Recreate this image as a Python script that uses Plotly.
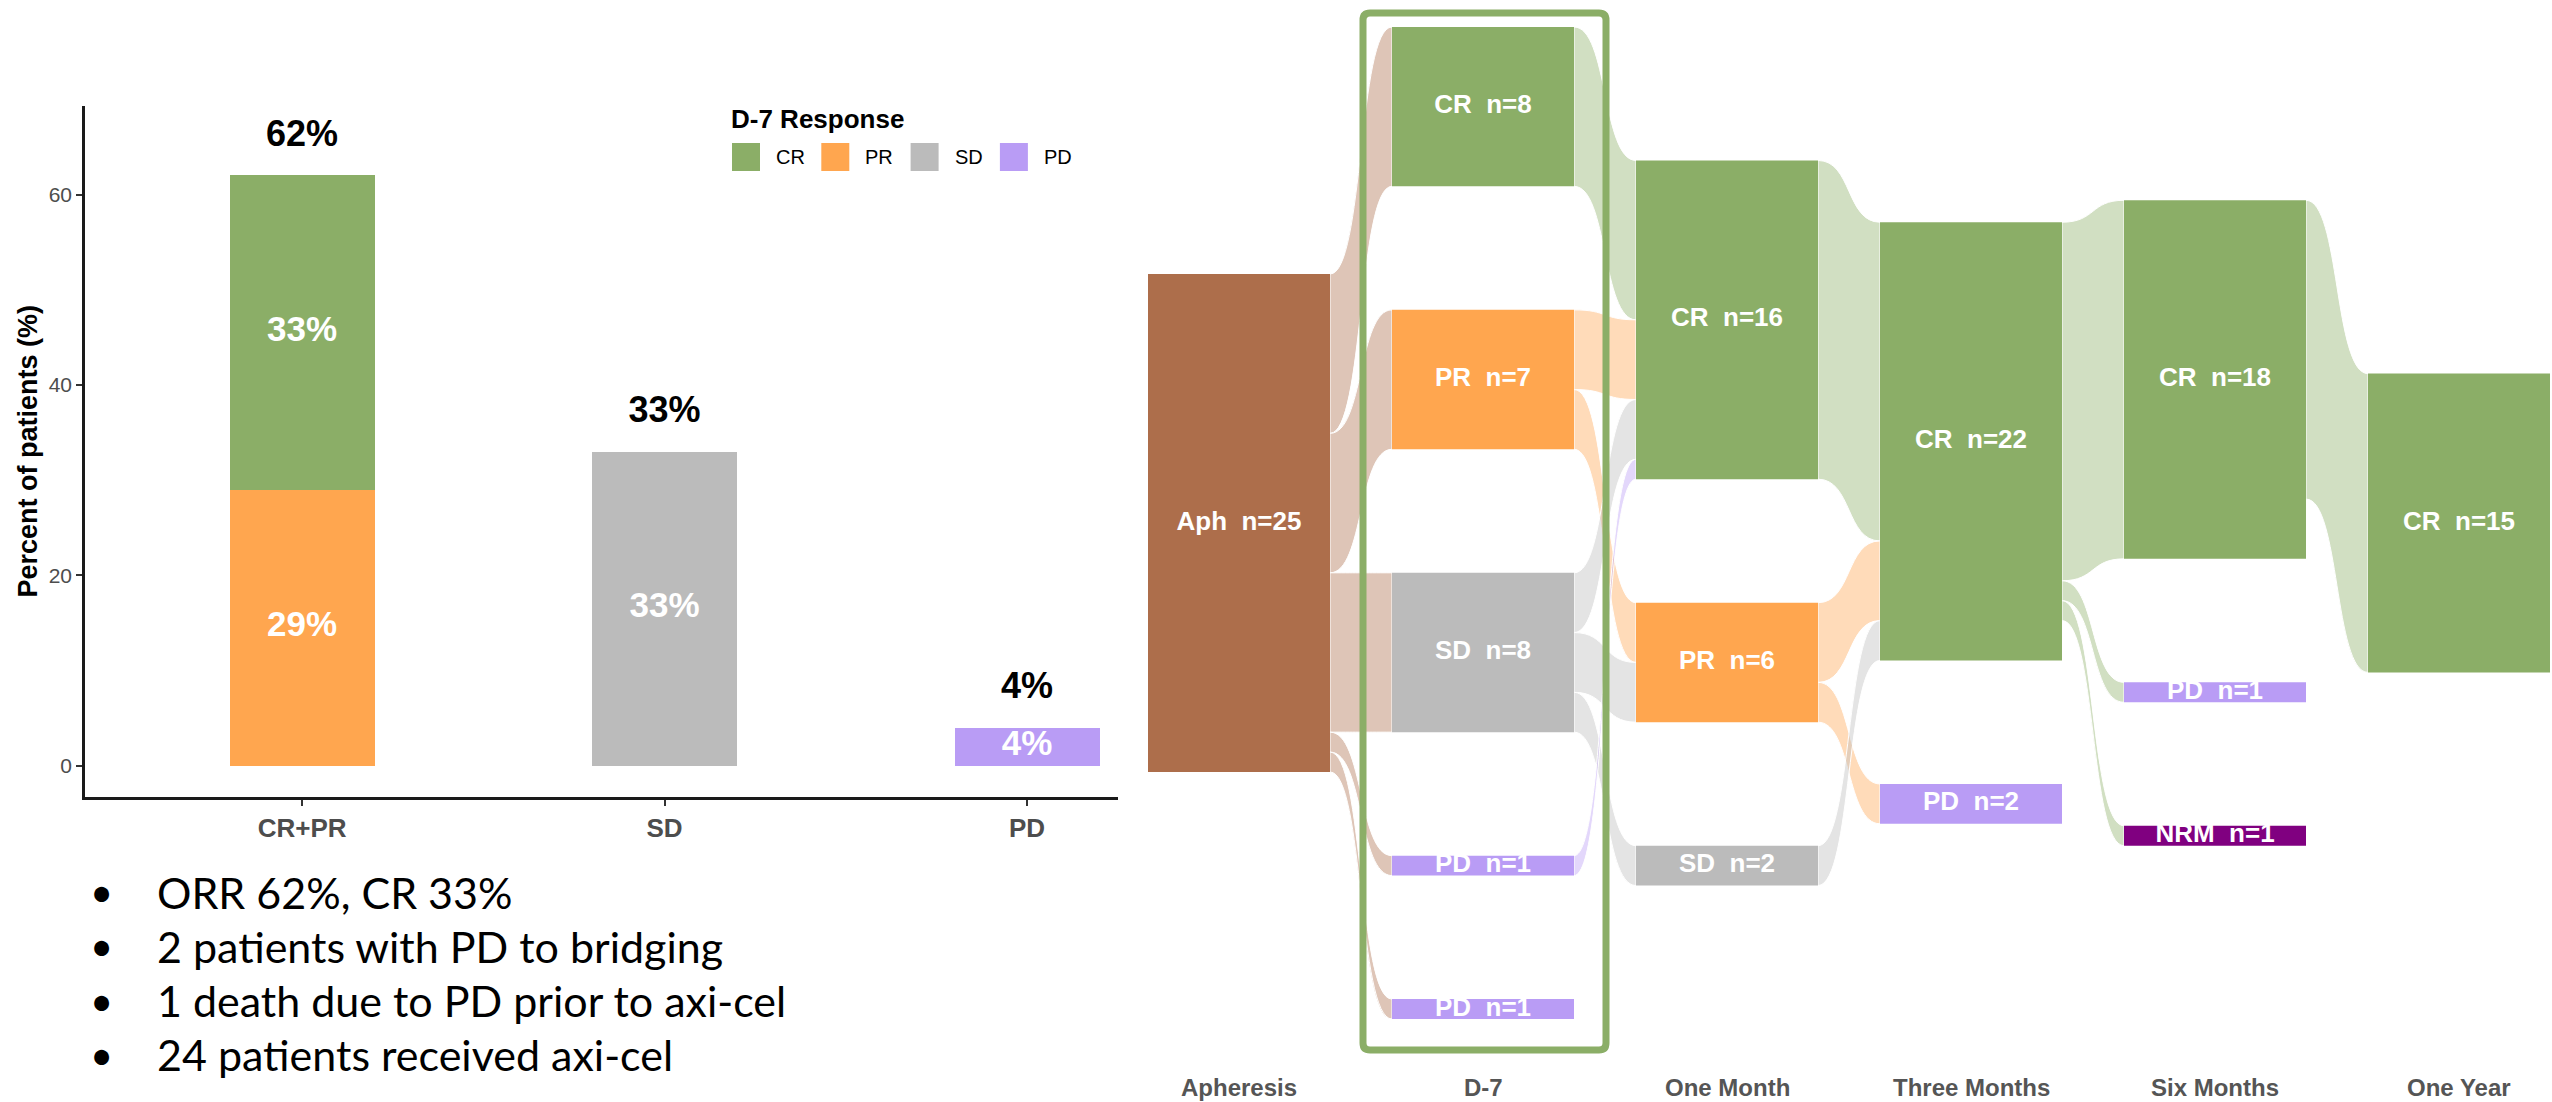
import plotly.graph_objects as go

W, H = 2552, 1102

# ---------------- bar chart data (D-7 response) ----------------
bar_categories = ["CR+PR", "SD", "PD"]
bar_positions = [1, 2, 3]
response_names = ["PR", "CR", "SD", "PD"]          # stacking order (bottom first)
response_cat = [1, 1, 2, 3]                         # which bar each response belongs to
response_pct = [29, 33, 33, 4]
bar_totals = [62, 33, 4]
legend_names = ["CR", "PR", "SD", "PD"]

colors = {"CR": "#8BAE67", "PR": "#FFA64F", "SD": "#BBBBBB", "PD": "#B99CF5",
          "Aph": "#AD6E4B", "NRM": "#800080"}

# ---------------- alluvial data ----------------
stage_names = ["Apheresis", "D-7", "One Month", "Three Months", "Six Months", "One Year"]
aph_nodes, aph_counts = ["Aph"], [25]
d7_nodes, d7_counts = ["CR", "PR", "SD", "PD", "PD"], [8, 7, 8, 1, 1]
m1_nodes, m1_counts = ["CR", "PR", "SD"], [16, 6, 2]
m3_nodes, m3_counts = ["CR", "PD"], [22, 2]
m6_nodes, m6_counts = ["CR", "PD", "NRM"], [18, 1, 1]
y1_nodes, y1_counts = ["CR"], [15]

# flows: stage index of source, source node index, target node index, patients
flow_stage = [0, 0, 0, 0, 0,  1, 1, 1, 1, 1, 1, 1,  2, 2, 2, 2,  3, 3, 3,  4]
flow_src   = [0, 0, 0, 0, 0,  0, 1, 1, 2, 2, 2, 3,  0, 1, 1, 2,  0, 0, 0,  0]
flow_tgt   = [0, 1, 2, 3, 4,  0, 0, 1, 0, 1, 2, 0,  0, 0, 1, 0,  0, 1, 2,  0]
flow_n     = [8, 7, 8, 1, 1,  8, 4, 3, 3, 3, 2, 1,  16, 4, 2, 2,  18, 1, 1,  15]

bullets = ["ORR 62%, CR 33%",
           "2 patients with PD to bridging",
           "1 death due to PD prior to axi-cel",
           "24 patients received axi-cel"]

# ---------------- layout helpers ----------------
def px(xp):
    return xp / W

def py(yp):
    return 1 - yp / H

ARIAL = "Liberation Sans, Arial, sans-serif"
GREY30 = "#4D4D4D"

fig = go.Figure()

# ---------------- bar chart ----------------
for name, cat, val in zip(response_names, response_cat, response_pct):
    fig.add_trace(go.Bar(x=[cat], y=[val], width=0.4, marker_color=colors[name],
                         marker_line_width=0, name=name, showlegend=False,
                         xaxis="x", yaxis="y"))

# inside labels (centre of each segment)
base = {}
in_x, in_y, in_t = [], [], []
for name, cat, val in zip(response_names, response_cat, response_pct):
    b = base.get(cat, 0)
    in_x.append(cat)
    in_y.append(b + val / 2)
    in_t.append(f"{val}%")
    base[cat] = b + val
fig.add_trace(go.Scatter(x=in_x, y=in_y, text=in_t, mode="text", showlegend=False,
                         textfont=dict(family=ARIAL, size=35, color="white", weight="bold"),
                         xaxis="x", yaxis="y", hoverinfo="skip"))
fig.add_trace(go.Scatter(x=bar_positions, y=[t + 4 for t in bar_totals],
                         text=[f"{t}%" for t in bar_totals], mode="text", showlegend=False,
                         textfont=dict(family=ARIAL, size=36, color="black", weight="bold"),
                         xaxis="x", yaxis="y", hoverinfo="skip"))

fig.update_layout(
    barmode="stack",
    xaxis=dict(domain=[px(85), px(1118)], range=[0.401, 3.251], tickmode="array",
               tickvals=bar_positions, ticktext=bar_categories, showline=True,
               linecolor="#1A1A1A", linewidth=2.5, ticks="outside", ticklen=6,
               tickwidth=2, tickcolor="#333333", showgrid=False, zeroline=False,
               tickfont=dict(family=ARIAL, size=26, color=GREY30, weight="bold"),
               anchor="y", fixedrange=True),
    yaxis=dict(domain=[py(797), py(106)], range=[-3.3, 69.3], tickmode="array",
               tickvals=[0, 20, 40, 60], showline=True, linecolor="#1A1A1A",
               linewidth=2.5, ticks="outside", ticklen=6, tickwidth=2,
               tickcolor="#333333", showgrid=False, zeroline=False,
               tickfont=dict(family=ARIAL, size=21, color=GREY30),
               anchor="x", fixedrange=True),
)

annotations = []
shapes = []

# y-axis title
annotations.append(dict(text="Percent of patients (%)", xref="paper", yref="paper",
                        x=px(28), y=(py(797) + py(106)) / 2, textangle=-90,
                        showarrow=False, xanchor="center", yanchor="middle",
                        font=dict(family=ARIAL, size=27, color="black", weight="bold")))

# legend (manual, ggplot style)
annotations.append(dict(text="D-7 Response", xref="paper", yref="paper", x=px(729),
                        y=py(119), xanchor="left", yanchor="middle", showarrow=False,
                        font=dict(family=ARIAL, size=26, color="black", weight="bold")))
for i, name in enumerate(legend_names):
    x0 = 732 + 89.3 * i
    shapes.append(dict(type="rect", xref="paper", yref="paper", x0=px(x0), x1=px(x0 + 28),
                       y0=py(171), y1=py(143), fillcolor=colors[name], line_width=0))
    annotations.append(dict(text=name, xref="paper", yref="paper", x=px(x0 + 42),
                            y=py(157), xanchor="left", yanchor="middle", showarrow=False,
                            font=dict(family=ARIAL, size=20, color="black")))

# bullet list
for i, line in enumerate(bullets):
    yc = 892 + 54.3 * i
    annotations.append(dict(text="•", xref="paper", yref="paper", x=px(101), y=py(yc),
                            xanchor="center", yanchor="middle", showarrow=False,
                            font=dict(family="Lato", size=40, color="black")))
    annotations.append(dict(text=line, xref="paper", yref="paper", x=px(155), y=py(yc),
                            xanchor="left", yanchor="middle", showarrow=False,
                            font=dict(family="Lato", size=43, color="black")))

# ---------------- alluvial ----------------
COL_STEP = 244.0      # px between stage columns
COL0 = 1148.0         # px left of first column
NODE_W = 182.0 / COL_STEP
UNIT = 19.92          # px per patient
CENTER = 523.0        # px, vertical centre of all stages
GAP = 6.2             # gap between nodes, in patients

stages = [(aph_nodes, aph_counts), (d7_nodes, d7_counts), (m1_nodes, m1_counts),
          (m3_nodes, m3_counts), (m6_nodes, m6_counts), (y1_nodes, y1_counts)]

node_top = []   # per stage list of top y (units, up positive)
for names, counts in stages:
    total = sum(counts) + GAP * (len(counts) - 1)
    top = total / 2
    tops = []
    for c in counts:
        tops.append(top)
        top -= c + GAP
    node_top.append(tops)

def rgba(hexcol, a):
    h = hexcol.lstrip("#")
    return f"rgba({int(h[0:2],16)},{int(h[2:4],16)},{int(h[4:6],16)},{a})"

out_off = [[0.0] * len(s[1]) for s in stages]
in_off = [[0.0] * len(s[1]) for s in stages]
K = 0.55
for st, s, t, n in zip(flow_stage, flow_src, flow_tgt, flow_n):
    x0 = st + NODE_W
    x1 = st + 1
    ys = node_top[st][s] - out_off[st][s]
    yt = node_top[st + 1][t] - in_off[st + 1][t]
    out_off[st][s] += n
    in_off[st + 1][t] += n
    dx = x1 - x0
    c1 = x0 + K * dx
    c2 = x1 - K * dx
    path = (f"M {x0},{ys} C {c1},{ys} {c2},{yt} {x1},{yt} "
            f"L {x1},{yt - n} C {c2},{yt - n} {c1},{ys - n} {x0},{ys - n} Z")
    src_name = stages[st][0][s]
    shapes.append(dict(type="path", xref="x2", yref="y2", path=path,
                       fillcolor=rgba(colors[src_name], 0.4),
                       line=dict(color="white", width=1), layer="below"))

lab_x, lab_y, lab_t = [], [], []
for si, (names, counts) in enumerate(stages):
    for ni, (nm, c) in enumerate(zip(names, counts)):
        top = node_top[si][ni]
        shapes.append(dict(type="rect", xref="x2", yref="y2", x0=si, x1=si + NODE_W,
                           y0=top - c, y1=top, fillcolor=colors[nm], line_width=0,
                           layer="below"))
        lab_x.append(si + NODE_W / 2)
        lab_y.append(top - c / 2)
        lab_t.append(f"{nm}\u00a0\u00a0n={c}")

fig.add_trace(go.Scatter(x=lab_x, y=lab_y, text=lab_t, mode="text", showlegend=False,
                         textfont=dict(family=ARIAL, size=26, color="white", weight="bold"),
                         xaxis="x2", yaxis="y2", hoverinfo="skip", cliponaxis=False))

# green frame (rounded corners) around D-7 column
d7_half = (sum(d7_counts) + GAP * (len(d7_counts) - 1)) / 2
fx0, fx1 = 1 - 29 / COL_STEP, 1 + NODE_W + 32 / COL_STEP
fy0, fy1 = -d7_half - 1.56, d7_half + 0.7
rx, ry = 7 / COL_STEP, 7 / UNIT
frame = (f"M {fx0 + rx},{fy1} L {fx1 - rx},{fy1} Q {fx1},{fy1} {fx1},{fy1 - ry} "
         f"L {fx1},{fy0 + ry} Q {fx1},{fy0} {fx1 - rx},{fy0} "
         f"L {fx0 + rx},{fy0} Q {fx0},{fy0} {fx0},{fy0 + ry} "
         f"L {fx0},{fy1 - ry} Q {fx0},{fy1} {fx0 + rx},{fy1} Z")
shapes.append(dict(type="path", xref="x2", yref="y2", path=frame,
                   line=dict(color="#8BAE67", width=7), fillcolor="rgba(0,0,0,0)",
                   layer="above"))

for i, nm in enumerate(stage_names):
    annotations.append(dict(text=nm, xref="x2", yref="paper", x=i + NODE_W / 2,
                            y=py(1087), xanchor="center", yanchor="middle",
                            showarrow=False,
                            font=dict(family=ARIAL, size=24, color="#555555", weight="bold")))

fig.update_layout(
    xaxis2=dict(domain=[0, 1], range=[-COL0 / COL_STEP, (W - COL0) / COL_STEP],
                visible=False, anchor="y2", fixedrange=True),
    yaxis2=dict(domain=[0, 1], range=[-(H - CENTER) / UNIT, CENTER / UNIT],
                visible=False, anchor="x2", fixedrange=True),
    width=W, height=H, margin=dict(l=0, r=0, t=0, b=0),
    paper_bgcolor="white", plot_bgcolor="rgba(0,0,0,0)",
    shapes=shapes, annotations=annotations, showlegend=False,
)

fig.write_html("out.html", config={"displayModeBar": False},
               post_script="document.body.style.margin='0px';document.body.style.overflow='hidden';")
